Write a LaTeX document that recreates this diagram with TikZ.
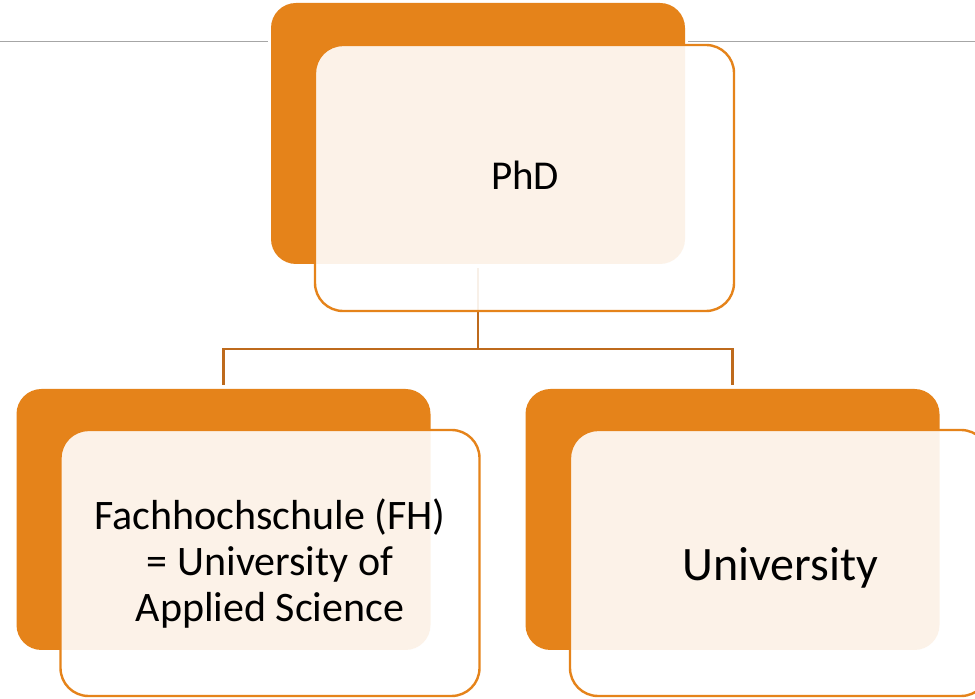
\documentclass[tikz,border=0pt]{standalone}
\usepackage{fontspec}
\setmainfont{Carlito}
\usetikzlibrary{calc}
\definecolor{orgfill}{HTML}{E5831A}
\definecolor{orgline}{HTML}{E5831A}
\definecolor{connclr}{HTML}{BE6A1C}
\definecolor{grayln}{HTML}{A6A6A6}
\tikzset{
  backbox/.style={rectangle, rounded corners=25pt, fill=orgfill, draw=none,
    minimum width=414pt, minimum height=261pt, inner sep=0pt},
  frontbox/.style={rectangle, rounded corners=28pt, fill=white, fill opacity=0.9,
    draw=orgline, draw opacity=1, line width=2.4pt,
    minimum width=419pt, minimum height=266pt, inner sep=0pt},
  conn/.style={draw=connclr, line width=2.4pt},
  lbl/.style={inner sep=0pt, text=black}
}
\begin{document}
\begin{tikzpicture}[x=1pt,y=1pt]
\useasboundingbox (0,0) rectangle (975,699);
\clip (0,0) rectangle (975,699);
\fill[white] (0,0) rectangle (975,699);
% back boxes
\node[backbox] (torng) at (478,565.5) {};
\node[backbox] (blorng) at (223.5,179.5) {};
\node[backbox] (brorng) at (732.5,179.5) {};
% gray rule
\coordinate (gl0) at (0,657);
\coordinate (gl1) at (975,657);
\draw[grayln, line width=1pt] (gl0) -- ($(gl0 -| torng.west)+(-3,0)$);
\draw[grayln, line width=1pt] ($(gl1 -| torng.east)+(3,0)$) -- (gl1);
% connectors
\coordinate (hub) at (478,350);
\draw[conn] ([yshift=-4pt]torng.south) -- (hub);
\draw[conn] ([yshift=4pt]blorng.north) |- (hub) -| ([yshift=4pt]brorng.north);
% front boxes
\node[frontbox] (tfront) at (524.5,521) {};
\node[frontbox] (blfront) at (270,136) {};
\node[frontbox] (brfront) at (779.5,136) {};
% labels
\node[lbl, anchor=base] (tphd) at (525,509) {\fontsize{41}{49}\selectfont PhD};
\node[lbl, align=center, font=\fontsize{42}{46}\selectfont] (tfh) at (270,135)
  {Fachhochschule (FH)\\ = University of\\Applied Science};
\node[lbl, anchor=base] (tuni) at (780,118.3) {\fontsize{48}{58}\selectfont University};
\end{tikzpicture}
\end{document}
